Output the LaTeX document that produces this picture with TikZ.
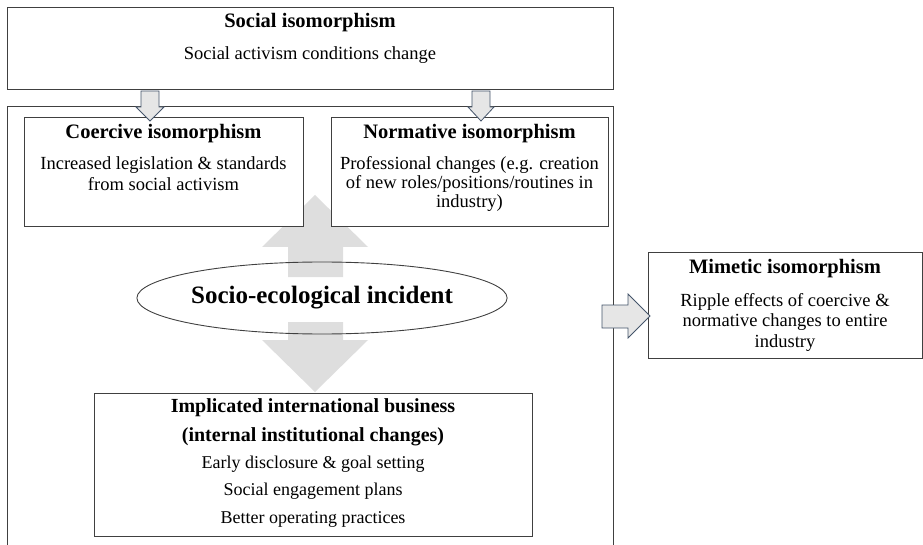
\documentclass[tikz,border=0pt]{standalone}
\usepackage{fontspec}
\setmainfont{Liberation Serif}
\usetikzlibrary{positioning, shapes.geometric, calc}
\definecolor{boxline}{HTML}{404040}
\definecolor{arrowline}{HTML}{44546A}
\definecolor{arrowfill}{HTML}{E6E6E6}
\definecolor{bigfill}{HTML}{DEDEDE}

\begin{document}
\begin{tikzpicture}[
  x=1pt, y=-1pt,
  every node/.style={inner sep=0pt},
  frame/.style={draw=boxline, line width=0.9pt, fill=white},
  title/.style={font=\fontsize{20.5}{24}\selectfont\bfseries},
  txt/.style={font=\fontsize{18.5}{20}\selectfont, align=center},
  smallarrow/.style={draw=arrowline, line width=0.8pt, fill=arrowfill, line join=miter},
  bigarrow/.style={fill=bigfill}
]
\useasboundingbox (0,0) rectangle (923,545);

% Outer field (runs off the bottom edge)
\node[frame, fill=none, minimum width=606, minimum height=460] (field) at (310,336) {};

% Big double arrow behind the boxes
\fill[bigarrow] (288,277) -- (288,247) -- (262,247) -- (315,195) -- (368,247) -- (343,247) -- (343,277) -- cycle;
\fill[bigarrow] (288,322) -- (288,340) -- (262,340) -- (315,392) -- (368,340) -- (343,340) -- (343,322) -- cycle;

% Top: social isomorphism
\node[frame, minimum width=606, minimum height=82] (social) at (310,48) {};
\node[title, anchor=base] (socialT) at (310,28) {Social isomorphism};
\node[txt, anchor=base] (socialB) at (310,60) {Social activism conditions change};

% Left: coercive (base = last line)
\node[frame, minimum width=279, minimum height=109] (coercive) at (163.5,171.5) {};
\node[title, anchor=base] (coerciveT) at (163.5,139) {Coercive isomorphism};
\node[txt, font=\fontsize{18.5}{20.5}\selectfont, anchor=base] (coerciveB) at (163.5,190.5)
  {Increased legislation \& standards\\from social activism};

% Right: normative
\node[frame, minimum width=277, minimum height=109] (normative) at (469.5,171.5) {};
\node[title, anchor=base] (normativeT) at (469.5,139) {Normative isomorphism};
\node[txt, font=\fontsize{18.5}{19}\selectfont, anchor=base] (normativeB) at (469.5,208)
  {Professional changes (e.g. creation\\of new roles/positions/routines in\\industry)};

% Centre: the incident
\node[draw=boxline, line width=0.9pt, ellipse, minimum width=291, minimum height=72,
  font=\fontsize{25}{30}\selectfont\bfseries] (incident) at (322,298) {Socio-ecological incident};

% Bottom: the business itself
\node[frame, minimum width=438, minimum height=143] (business) at (313,464.5) {};
\node[title, font=\fontsize{20}{29}\selectfont\bfseries, align=center, anchor=base] (businessT) at (313,441)
  {Implicated international business\\(internal institutional changes)};
\node[txt, font=\fontsize{18}{27.5}\selectfont, anchor=base] (businessB) at (313,523)
  {Early disclosure \& goal setting\\Social engagement plans\\Better operating practices};

% Far right: mimetic
\node[frame, minimum width=274, minimum height=106] (mimetic) at (785,305) {};
\node[title, anchor=base] (mimeticT) at (785,273) {Mimetic isomorphism};
\node[txt, font=\fontsize{18.5}{20.5}\selectfont, anchor=base] (mimeticB) at (785,347)
  {Ripple effects of coercive \&\\normative changes to entire\\industry};

% Small block arrows
\draw[smallarrow] (141,91) -- (159,91) -- (159,107) -- (164,107) -- (150,121) -- (136,107) -- (141,107) -- cycle;
\draw[smallarrow] (472,91) -- (490,91) -- (490,107) -- (494,107) -- (481,121) -- (468,107) -- (472,107) -- cycle;
\draw[smallarrow] (602,305) -- (628,305) -- (628,294) -- (650,316) -- (628,338) -- (628,328) -- (602,328) -- cycle;

\end{tikzpicture}
\end{document}
